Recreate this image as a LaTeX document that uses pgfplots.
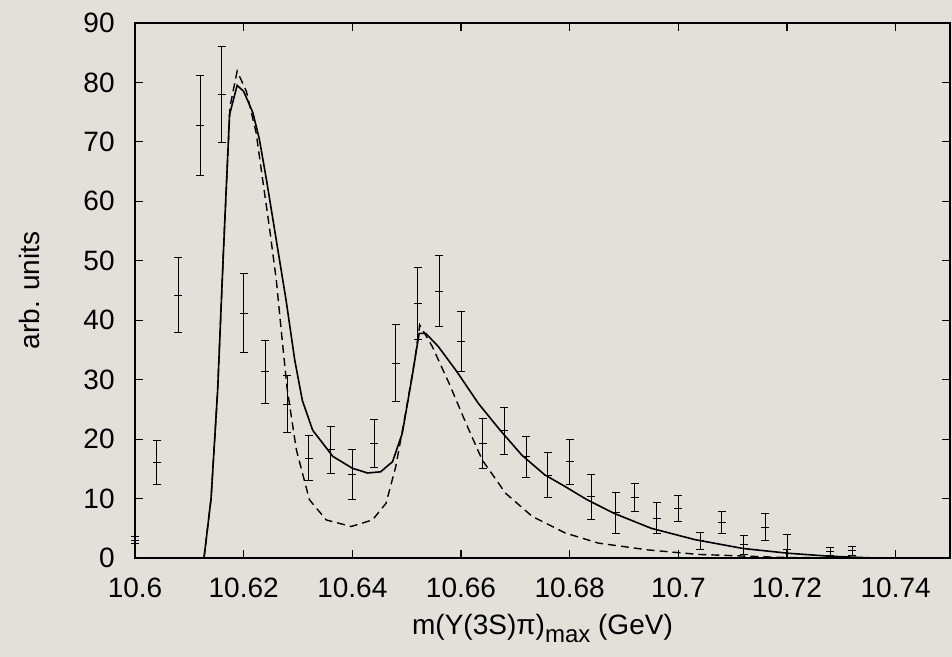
\documentclass[border=0pt]{standalone}
\usepackage{fontspec}
\setmainfont{Liberation Sans}
\usepackage{pgfplots}
\pgfplotsset{compat=1.18}
\definecolor{paper}{HTML}{E3E0DA}

\begin{document}
\begin{tikzpicture}
\path[use as bounding box, fill=paper] (-67.5pt,-49.5pt) rectangle (408.5pt,279pt);
\begin{axis}[
  at={(0,0)}, anchor=south west,
  scale only axis, width=407.5pt, height=267.5pt,
  xmin=10.6, xmax=10.75, ymin=0, ymax=90,
  xtick={10.6,10.62,10.64,10.66,10.68,10.7,10.72,10.74},
  xticklabels={10.6,10.62,10.64,10.66,10.68,10.7,10.72,10.74},
  ytick={0,10,20,30,40,50,60,70,80,90},
  scaled x ticks=false,
  tick align=inside, major tick length=4pt,
  tick style={black, line width=0.6pt},
  axis line style={black, line width=0.8pt},
  /pgf/number format/assume math mode=true,
  tick label style={font=\fontsize{14}{16}\selectfont},
  label style={font=\fontsize{14}{16}\selectfont},
  xticklabel style={inner sep=0pt, anchor=north, yshift=-10pt},
  yticklabel style={inner sep=0pt, anchor=east, xshift=-10pt},
  xlabel={m(Υ(3S)π)\raisebox{-4pt}{\fontsize{12}{14}\selectfont max} (GeV)},
  ylabel={arb. units},
  xlabel style={at={(axis description cs:0.5,-0.1439)}, anchor=base},
  ylabel style={at={(axis description cs:-0.1166,0.5)}, anchor=base, rotate=0},
  clip=false,
]
% full fit
\addplot[black, line width=0.8pt] coordinates {
  (10.600,0) (10.6127,0) (10.6140,10) (10.6152,28) (10.6163,52) (10.6174,74.6)
  (10.6188,79.5) (10.6200,78.5) (10.6217,74.9) (10.6229,70.4) (10.6242,63.6)
  (10.6260,53.5) (10.6278,43.4) (10.6294,33.3) (10.6308,26.5) (10.6327,21.5)
  (10.6364,17.1) (10.6400,15.1)
  (10.6428,14.3) (10.6452,14.5) (10.6474,16.2) (10.6492,21.0) (10.6510,30.5)
  (10.6523,37.8) (10.6535,37.8) (10.6558,35.6) (10.6592,31.4) (10.6632,26.0)
  (10.6672,21.5) (10.6712,17.3) (10.6754,14.0) (10.6792,12.0) (10.6832,9.8)
  (10.6882,7.5) (10.6950,5.0) (10.7030,3.1) (10.7119,1.6) (10.7202,0.8)
  (10.7278,0.3) (10.7360,0)
};
% dashed curve
\addplot[black, line width=0.7pt, dash pattern=on 4pt off 2.5pt] coordinates {
  (10.6127,0) (10.6140,10) (10.6152,28) (10.6163,52) (10.6175,76) (10.6188,81.9)
  (10.6205,78.5) (10.6223,71.5) (10.6235,63.6) (10.6248,55.2) (10.6260,46.8)
  (10.6270,37.5) (10.6280,28.5) (10.6297,18.2)
  (10.6321,9.8) (10.6352,6.4) (10.6398,5.3) (10.6437,6.4) (10.6462,9.2)
  (10.6480,15.4) (10.6499,24.9) (10.6514,32.8) (10.6524,39.2) (10.6547,35.6)
  (10.6578,29.4) (10.6609,22.7) (10.6639,16.5) (10.6682,10.9) (10.6731,7.0)
  (10.6792,4.2) (10.6853,2.5) (10.6945,1.35) (10.7037,0.6) (10.7189,0.1)
  (10.7300,0)
};
% measured points
\addplot[black, line width=0.5pt, only marks, mark=+, mark size=2pt,
  error bars/.cd, y dir=both, y explicit,
  error bar style={line width=0.5pt},
  error mark=|,
  error mark options={black, mark size=2pt, line width=0.5pt}]
coordinates {
  (10.600,3.0) +- (0,0.6)
  (10.604,16.0) +- (0,3.7)
  (10.608,44.2) +- (0,6.3)
  (10.612,72.8) +- (0,8.4)
  (10.616,78.0) +- (0,8.1)
  (10.620,41.2) +- (0,6.6)
  (10.624,31.3) +- (0,5.3)
  (10.628,25.9) +- (0,4.8)
  (10.632,16.8) +- (0,3.8)
  (10.636,18.2) +- (0,4.0)
  (10.640,14.0) +- (0,4.2)
  (10.644,19.3) +- (0,4.0)
  (10.648,32.8) +- (0,6.4)
  (10.652,42.8) +- (0,6.0)
  (10.656,44.9) +- (0,6.0)
  (10.660,36.4) +- (0,5.0)
  (10.664,19.3) +- (0,4.2)
  (10.668,21.4) +- (0,4.0)
  (10.672,17.0) +- (0,3.5)
  (10.676,13.9) +- (0,3.8)
  (10.680,16.2) +- (0,3.8)
  (10.684,10.3) +- (0,3.8)
  (10.6885,7.6) +- (0,3.4)
  (10.692,10.2) +- (0,2.4)
  (10.696,6.7) +- (0,2.6)
  (10.700,8.3) +- (0,2.2)
  (10.704,2.9) +- (0,1.4)
  (10.708,6.0) +- (0,1.8)
  (10.712,2.2) +- (0,1.6)
  (10.716,5.2) +- (0,2.3)
  (10.720,1.4) += (0,2.6) -= (0,1.4)
  (10.728,1.1) +- (0,0.7)
  (10.732,1.2) +- (0,0.8)
};
\end{axis}
\end{tikzpicture}
\end{document}
